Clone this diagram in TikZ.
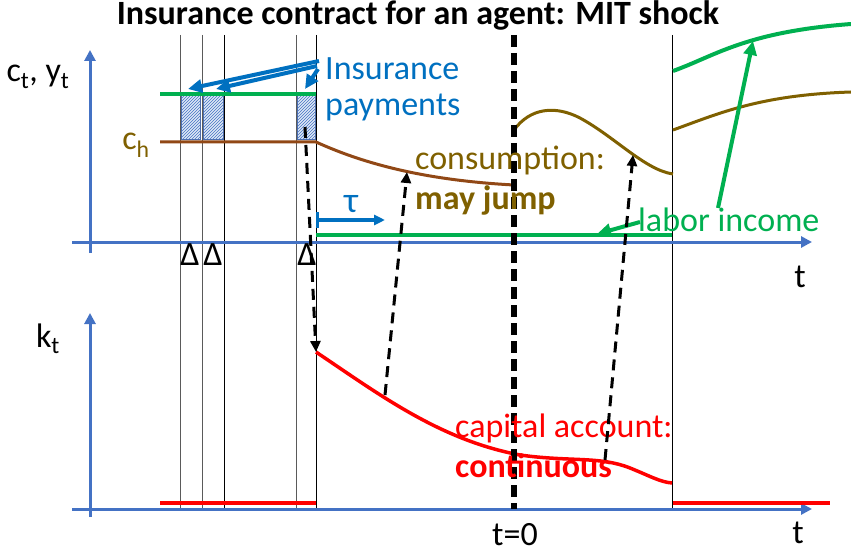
\documentclass[tikz,border=0pt]{standalone}
\usepackage{fontspec}
\setmainfont{Carlito}
\usetikzlibrary{arrows.meta,patterns}
\definecolor{axisblue}{RGB}{68,114,196}
\definecolor{txtblue}{RGB}{0,112,192}
\definecolor{lgreen}{RGB}{0,176,80}
\definecolor{cbrown}{RGB}{145,72,22}
\definecolor{olive}{RGB}{127,96,0}
\definecolor{kred}{RGB}{255,0,0}
\definecolor{boxfill}{RGB}{222,232,246}
\definecolor{boxedge}{RGB}{80,110,170}
\definecolor{guidegray}{RGB}{90,90,90}
\tikzset{
  axis/.style={draw=axisblue, line width=3pt, -{Triangle[length=11pt,width=11pt]}},
  guide/.style={line width=1pt},
  bigdash/.style={line width=5.5pt, dash pattern=on 12pt off 6pt},
  linkarrow/.style={line width=3pt, dash pattern=on 11pt off 7pt, -{Triangle[length=11pt,width=10pt]}},
  insarrow/.style={draw=txtblue, line width=4pt, -{Triangle[length=14pt,width=13pt]}},
  grarrow/.style={draw=lgreen, line width=4pt, -{Triangle[length=14pt,width=13pt]}},
  hatchbox/.style={fill=boxfill, draw=boxedge, line width=1pt, postaction={pattern=north east lines, pattern color=axisblue}},
  lbl/.style={inner sep=0pt, anchor=base},
  lblw/.style={inner sep=0pt, anchor=base west},
}
\begin{document}
\begin{tikzpicture}[x=1pt,y=-1pt, font=\fontsize{34}{40}\selectfont]
\useasboundingbox (0,0) rectangle (851,556);

% title
\node[lbl, font=\bfseries\fontsize{34}{40}\selectfont] (title) at (418,25) {Insurance contract for an agent: MIT shock};

% thin vertical guide lines
\draw[guide, guidegray] (180,35) -- (180,509);
\draw[guide, guidegray] (202,35) -- (202,509);
\draw[guide, black] (224,35) -- (224,509);
\draw[guide, guidegray] (296,35) -- (296,509);
\draw[guide, black] (316,35) -- (316,509);
\draw[guide, black] (672,35) -- (672,509);

% axes
\coordinate (ua0) at (90,253); \coordinate (ua1) at (90,50);
\coordinate (uh0) at (72,242); \coordinate (uh1) at (812,242);
\coordinate (la0) at (90,517); \coordinate (la1) at (90,313);
\coordinate (lh0) at (72,509); \coordinate (lh1) at (812,509);
\draw[axis] (ua0) -- (ua1);
\draw[axis] (uh0) -- (uh1);
\draw[axis] (la0) -- (la1);
\draw[axis] (lh0) -- (lh1);

% hatched insurance payment boxes
\draw[hatchbox] (181,96) rectangle (200,140);
\draw[hatchbox] (203,96) rectangle (223,140);
\draw[hatchbox] (297,96) rectangle (315,140);

% income and consumption before
\draw[lgreen, line width=4pt] (160,94) -- (316,94);
\draw[cbrown, line width=3pt] (160,142) -- (316,142) .. controls (360,162) and (420,180) .. (514,185);
% labor income after tau
\draw[lgreen, line width=4pt] (316,235) -- (672,235);
% consumption after shock
\draw[olive, line width=3pt] (514,130) .. controls (530,108) and (555,105) .. (580,118) .. controls (615,137) and (645,170) .. (673,174);
% after retirement
\draw[olive, line width=3pt] (673,130) .. controls (720,113) and (760,95) .. (851,92);
\draw[lgreen, line width=4pt] (673,71) .. controls (715,56) and (745,32) .. (851,24);

% capital account
\draw[kred, line width=3.5pt] (160,503) -- (316,503);
\draw[kred, line width=3.5pt] (316,352) .. controls (380,395) and (440,440) .. (520,455) .. controls (570,462) and (600,456) .. (630,468) .. controls (650,476) and (660,482) .. (672,483);
\draw[kred, line width=3.5pt] (673,503) -- (830,503);

% MIT shock line
\draw[bigdash] (514,35) -- (514,509);

% labels
\node[lbl] (cy) at (38,82) {c\textsubscript{t}, y\textsubscript{t}};
\node[lbl, text=olive] (ch) at (136,150) {c\textsubscript{h}};
\node[lbl] (kt) at (48,347) {k\textsubscript{t}};
\node[lbl] (tup) at (800,287) {t};
\node[lbl] (tlow) at (798,543) {t};
\node[lbl] (t0) at (515,545) {t=0};
\node[lbl] (d1) at (190,265) {Δ};
\node[lbl] (d2) at (213,265) {Δ};
\node[lbl] (d3) at (307,265) {Δ};
\node[lblw, text=txtblue] (ins1) at (325,80) {Insurance};
\node[lblw, text=txtblue] (ins2) at (325,116) {payments};
\node[lblw, text=olive] (cons1) at (415,170) {consumption:};
\node[lblw, text=olive, font=\bfseries\fontsize{34}{40}\selectfont] (cons2) at (415,210) {may jump};
\node[lblw, text=lgreen] (lab) at (638,232) {labor income};
\node[lblw, text=kred] (cap1) at (455,437) {capital account:};
\node[lblw, text=kred, font=\bfseries\fontsize{34}{40}\selectfont] (cap2) at (455,477) {continuous};
\node[lbl, text=txtblue, font=\fontsize{36}{40}\selectfont] (tau) at (351,212) {τ};

% tau arrow
\coordinate (tau0) at (316,220); \coordinate (tau1) at (385,220);
\draw[txtblue, line width=3pt, {Bar[width=16pt]}-{Triangle[length=11pt,width=10pt]}] (tau0) -- (tau1);

% insurance arrows
\coordinate (ia1) at (319,61); \coordinate (ib1) at (188,89);
\coordinate (ia2) at (317,66); \coordinate (ib2) at (216,89);
\coordinate (ia3) at (318,69); \coordinate (ib3) at (305,89);
\draw[insarrow] (ia1) -- (ib1);
\draw[insarrow] (ia2) -- (ib2);
\draw[insarrow] (ia3) -- (ib3);

% green arrows from label
\coordinate (ga0) at (640,222); \coordinate (ga1) at (597,234);
\coordinate (gb0) at (718,208); \coordinate (gb1) at (753,41);
\draw[grarrow] (ga0) -- (ga1);
\draw[grarrow] (gb0) -- (gb1);

% dashed link arrows
\coordinate (k0) at (316,352);
\coordinate (da0) at (305,127);
\coordinate (db0) at (385,395); \coordinate (db1) at (407,172);
\coordinate (dc0) at (605,460); \coordinate (dc1) at (633,155);
\draw[linkarrow] (da0) -- (k0);
\draw[linkarrow] (db0) -- (db1);
\draw[linkarrow] (dc0) -- (dc1);
\end{tikzpicture}
\end{document}
